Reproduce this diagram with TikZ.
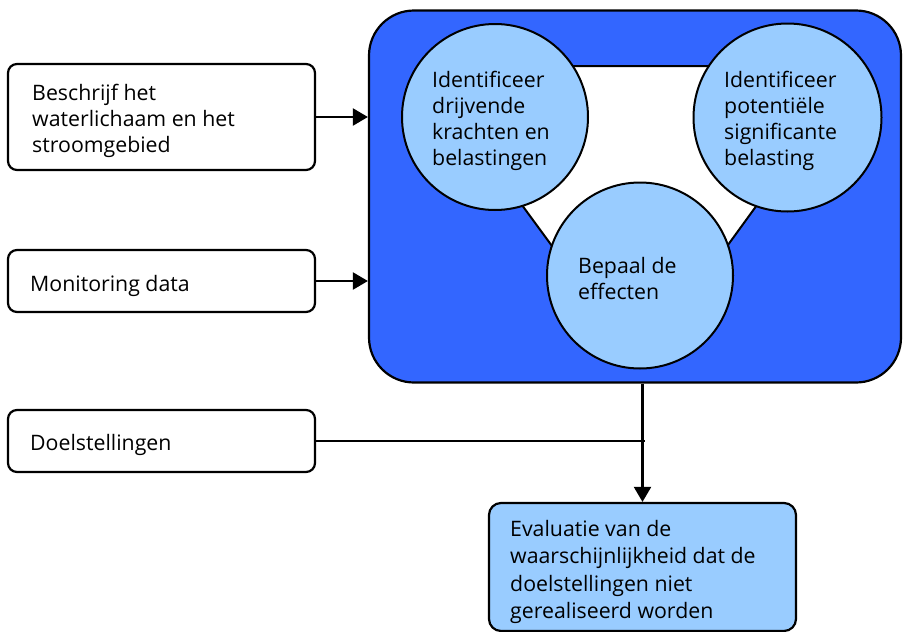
\documentclass[tikz,border=0pt]{standalone}
\usepackage{fontspec}
\setmainfont{Open Sans}
\usetikzlibrary{arrows.meta}
\definecolor{panelblue}{HTML}{3366FF}
\definecolor{lightblue}{HTML}{99CCFF}
\tikzset{
  inbox/.style={draw=black, line width=2.2pt, fill=white, rounded corners=9pt, inner sep=0pt},
  bubble/.style={circle, draw=black, line width=2pt, fill=lightblue, inner sep=0pt},
  label/.style={font=\fontsize{21.3}{26}\selectfont, align=left, inner sep=0pt, anchor=base west, text=black},
  link/.style={line width=2.2pt, draw=black},
  tip/.style={-{Triangle[width=17pt,length=15pt]}}
}
\begin{document}
\begin{tikzpicture}[x=1pt, y=-1pt]
\useasboundingbox (0,0) rectangle (903,632);

% input boxes on the left
\node[inbox, minimum width=307pt, minimum height=106pt] (desc) at (161.5,117) {};
\node[inbox, minimum width=307pt, minimum height=62pt] (mon) at (161.5,281) {};
\node[inbox, minimum width=307pt, minimum height=62pt] (goal) at (161.5,441) {};

% blue analysis panel
\node[draw=black, line width=2.2pt, fill=panelblue, rounded corners=45pt,
      minimum width=532pt, minimum height=372pt, inner sep=0pt] (panel) at (635,196.5) {};

% white triangle inside the panel
\draw[line width=2pt, fill=white, line join=miter] (420,66) -- (858,66) -- (640,366) -- cycle;

% the three steps
\node[bubble, minimum size=186pt] (drive) at (495,117) {};
\node[bubble, minimum size=188pt] (press) at (787.5,117.5) {};
\node[bubble, minimum size=186pt] (effect) at (640,275.5) {};

% result box
\node[draw=black, line width=2.2pt, fill=lightblue, rounded corners=12pt,
      minimum width=307pt, minimum height=128pt, inner sep=0pt] (eval) at (642.5,567) {};

% texts (anchored at the baseline of their last line)
\node[label] (tdesc) at (32,152) {Beschrijf het\\waterlichaam en het\\stroomgebied};
\node[label] (tmon) at (30,291) {Monitoring data};
\node[label] (tgoal) at (30,450) {Doelstellingen};
\node[label] (tdrive) at (432,165) {Identificeer\\drijvende\\krachten en\\belastingen};
\node[label] (tpress) at (724,165) {Identificeer\\potentiële\\significante\\belasting};
\node[label] (teffect) at (578,299) {Bepaal de\\effecten};
\node[label, font=\fontsize{21.3}{27.5}\selectfont] (teval) at (510,618.5) {Evaluatie van de\\waarschijnlijkheid dat de\\doelstellingen niet\\gerealiseerd worden};

% connectors
\draw[link, tip] (desc.east) -- (desc.east -| panel.west);
\draw[link, tip] (mon.east) -- (mon.east -| panel.west);
\coordinate (join) at (eval.north |- goal.east);
\draw[link] (goal.east) -- ([xshift=2pt]join);
\draw[link, tip] (eval.north |- panel.south) -- (eval.north);
\end{tikzpicture}
\end{document}
